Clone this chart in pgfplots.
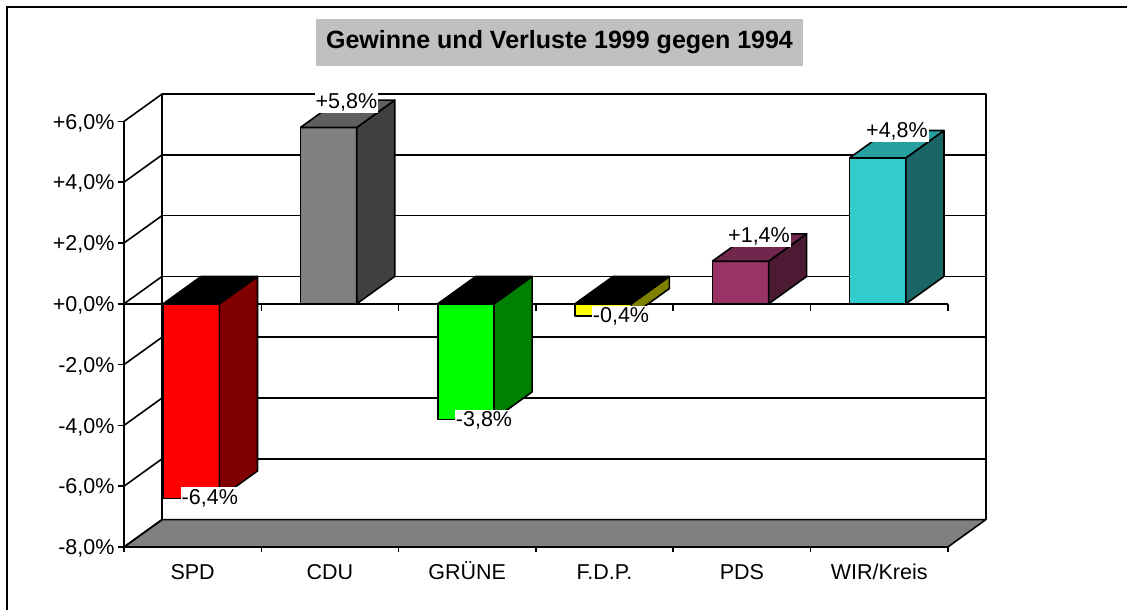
\documentclass[border=0pt]{standalone}
\usepackage{pgfplots}
\pgfplotsset{compat=1.18}
\usepackage{fontspec}
\setmainfont{Liberation Sans}

\definecolor{spdF}{HTML}{FF0000}\definecolor{spdS}{HTML}{800000}
\definecolor{cduF}{HTML}{808080}\definecolor{cduS}{HTML}{404040}\definecolor{cduT}{HTML}{5F5F5F}
\definecolor{grF}{HTML}{00FF00}\definecolor{grS}{HTML}{008000}
\definecolor{fdpF}{HTML}{FFFF00}\definecolor{fdpS}{HTML}{808000}
\definecolor{pdsF}{HTML}{993366}\definecolor{pdsS}{HTML}{4D1A33}\definecolor{pdsT}{HTML}{73264D}
\definecolor{wirF}{HTML}{33CCCC}\definecolor{wirS}{HTML}{1A6666}\definecolor{wirT}{HTML}{27A0A0}
\definecolor{titlebg}{HTML}{C0C0C0}

\begin{document}
\begin{tikzpicture}[x=1pt,y=1pt]
% outer frame (only left and top visible)
\draw[line width=2.2pt] (7,0) -- (7,603) -- (1127,603);
% title
\node[fill=titlebg, minimum width=487pt, minimum height=47pt, inner sep=0pt,
      font=\bfseries\fontsize{25}{29}\selectfont] at (559.5,567.5)
      {Gewinne und Verluste 1999 gegen 1994};

\begin{axis}[
    at={(124pt,63pt)}, anchor=south west,
    x=137.3pt, y=30.4pt,
    xmin=0, xmax=6.277, ymin=-8, ymax=6.9,
    clip=false,
    axis line style={draw=none},
    major tick length=0pt, minor tick length=0pt,
    xtick={0.5,1.5,2.5,3.5,4.5,5.5},
    xticklabels={SPD,CDU,GRÜNE,F.D.P.,PDS,WIR/Kreis},
    ytick={-8,-6,-4,-2,0,2,4,6},
    yticklabels={{-8,0\%},{-6,0\%},{-4,0\%},{-2,0\%},{+0,0\%},{+2,0\%},{+4,0\%},{+6,0\%}},
    tick label style={font=\fontsize{21.5}{25}\selectfont},
    xticklabel style={anchor=base, yshift=-32.5pt},
    yticklabel style={anchor=base east, xshift=-6pt, yshift=-7.7pt},
    every axis plot/.append style={line width=1.6pt, line join=round, mark=none},
]
% floor
\addplot[fill=cduF, draw=black] coordinates {(0,-8) (6,-8) (6.277,-7.1) (0.277,-7.1) (0,-8)};
% back wall grid
\addplot[black] coordinates {(0.277,6.9) (6.277,6.9) (6.277,-7.1)};
\addplot[black] coordinates {(0.277,-7.1) (0.277,6.9)};
\addplot[black] coordinates {(0.277,4.9) (6.277,4.9)};
\addplot[black] coordinates {(0.277,2.9) (6.277,2.9)};
\addplot[black] coordinates {(0.277,0.9) (6.277,0.9)};
\addplot[black] coordinates {(0.277,-1.1) (6.277,-1.1)};
\addplot[black] coordinates {(0.277,-3.1) (6.277,-3.1)};
\addplot[black] coordinates {(0.277,-5.1) (6.277,-5.1)};
% side wall diagonals
\addplot[black] coordinates {(0,6) (0.277,6.9)};
\addplot[black] coordinates {(0,4) (0.277,4.9)};
\addplot[black] coordinates {(0,2) (0.277,2.9)};
\addplot[black] coordinates {(0,0) (0.277,0.9)};
\addplot[black] coordinates {(0,-2) (0.277,-1.1)};
\addplot[black] coordinates {(0,-4) (0.277,-3.1)};
\addplot[black] coordinates {(0,-6) (0.277,-5.1)};
\addplot[black] coordinates {(0,-8) (0.277,-7.1)};
% front value axis with ticks
\addplot[black] coordinates {(0,-8.17) (0,6)};
\addplot[black] coordinates {(-0.044,6) (0,6)};
\addplot[black] coordinates {(-0.044,4) (0,4)};
\addplot[black] coordinates {(-0.044,2) (0,2)};
\addplot[black] coordinates {(-0.044,0) (0,0)};
\addplot[black] coordinates {(-0.044,-2) (0,-2)};
\addplot[black] coordinates {(-0.044,-4) (0,-4)};
\addplot[black] coordinates {(-0.044,-6) (0,-6)};
\addplot[black] coordinates {(-0.044,-8) (0,-8)};
% bottom category ticks
\addplot[black] coordinates {(1,-8) (1,-8.17)};
\addplot[black] coordinates {(2,-8) (2,-8.17)};
\addplot[black] coordinates {(3,-8) (3,-8.17)};
\addplot[black] coordinates {(4,-8) (4,-8.17)};
\addplot[black] coordinates {(5,-8) (5,-8.17)};
\addplot[black] coordinates {(6,-8) (6,-8.17)};
% front zero line with ticks
\addplot[black] coordinates {(0,0) (6,0)};
\addplot[black] coordinates {(1,0) (1,-0.25)};
\addplot[black] coordinates {(2,0) (2,-0.25)};
\addplot[black] coordinates {(3,0) (3,-0.25)};
\addplot[black] coordinates {(4,0) (4,-0.25)};
\addplot[black] coordinates {(5,0) (5,-0.25)};
\addplot[black] coordinates {(6,0) (6,-0.25)};

% SPD -6.4
\addplot[fill=spdF, draw=black] coordinates {(0.285,0) (0.695,0) (0.695,-6.4) (0.285,-6.4) (0.285,0)};
\addplot[fill=spdS, draw=black] coordinates {(0.695,0) (0.972,0.9) (0.972,-5.5) (0.695,-6.4) (0.695,0)};
\addplot[fill=black, draw=black] coordinates {(0.285,0) (0.695,0) (0.972,0.9) (0.562,0.9) (0.285,0)};
% CDU 5.8
\addplot[fill=cduF, draw=black] coordinates {(1.285,0) (1.695,0) (1.695,5.8) (1.285,5.8) (1.285,0)};
\addplot[fill=cduS, draw=black] coordinates {(1.695,0) (1.972,0.9) (1.972,6.7) (1.695,5.8) (1.695,0)};
\addplot[fill=cduT, draw=black] coordinates {(1.285,5.8) (1.695,5.8) (1.972,6.7) (1.562,6.7) (1.285,5.8)};
% GRUENE -3.8
\addplot[fill=grF, draw=black] coordinates {(2.285,0) (2.695,0) (2.695,-3.8) (2.285,-3.8) (2.285,0)};
\addplot[fill=grS, draw=black] coordinates {(2.695,0) (2.972,0.9) (2.972,-2.9) (2.695,-3.8) (2.695,0)};
\addplot[fill=black, draw=black] coordinates {(2.285,0) (2.695,0) (2.972,0.9) (2.562,0.9) (2.285,0)};
% FDP -0.4
\addplot[fill=fdpF, draw=black] coordinates {(3.285,0) (3.695,0) (3.695,-0.4) (3.285,-0.4) (3.285,0)};
\addplot[fill=fdpS, draw=black] coordinates {(3.695,0) (3.972,0.9) (3.972,0.5) (3.695,-0.4) (3.695,0)};
\addplot[fill=black, draw=black] coordinates {(3.285,0) (3.695,0) (3.972,0.9) (3.562,0.9) (3.285,0)};
% PDS 1.4
\addplot[fill=pdsF, draw=black] coordinates {(4.285,0) (4.695,0) (4.695,1.4) (4.285,1.4) (4.285,0)};
\addplot[fill=pdsS, draw=black] coordinates {(4.695,0) (4.972,0.9) (4.972,2.3) (4.695,1.4) (4.695,0)};
\addplot[fill=pdsT, draw=black] coordinates {(4.285,1.4) (4.695,1.4) (4.972,2.3) (4.562,2.3) (4.285,1.4)};
% WIR/Kreis 4.8
\addplot[fill=wirF, draw=black] coordinates {(5.285,0) (5.695,0) (5.695,4.8) (5.285,4.8) (5.285,0)};
\addplot[fill=wirS, draw=black] coordinates {(5.695,0) (5.972,0.9) (5.972,5.7) (5.695,4.8) (5.695,0)};
\addplot[fill=wirT, draw=black] coordinates {(5.285,4.8) (5.695,4.8) (5.972,5.7) (5.562,5.7) (5.285,4.8)};

% data labels
\begin{scope}[every node/.style={fill=white, inner xsep=1pt, inner ysep=2pt, font=\fontsize{21.5}{25}\selectfont}]
\node at (axis cs:0.625,-6.40) {-6,4\%};
\node at (axis cs:1.620,6.62) {+5,8\%};
\node at (axis cs:2.622,-3.85) {-3,8\%};
\node at (axis cs:3.620,-0.43) {-0,4\%};
\node at (axis cs:4.625,2.23) {+1,4\%};
\node at (axis cs:5.630,5.68) {+4,8\%};
\end{scope}
\end{axis}
\pgfresetboundingbox
\path[use as bounding box] (0,0) rectangle (1127,610);
\end{tikzpicture}
\end{document}
